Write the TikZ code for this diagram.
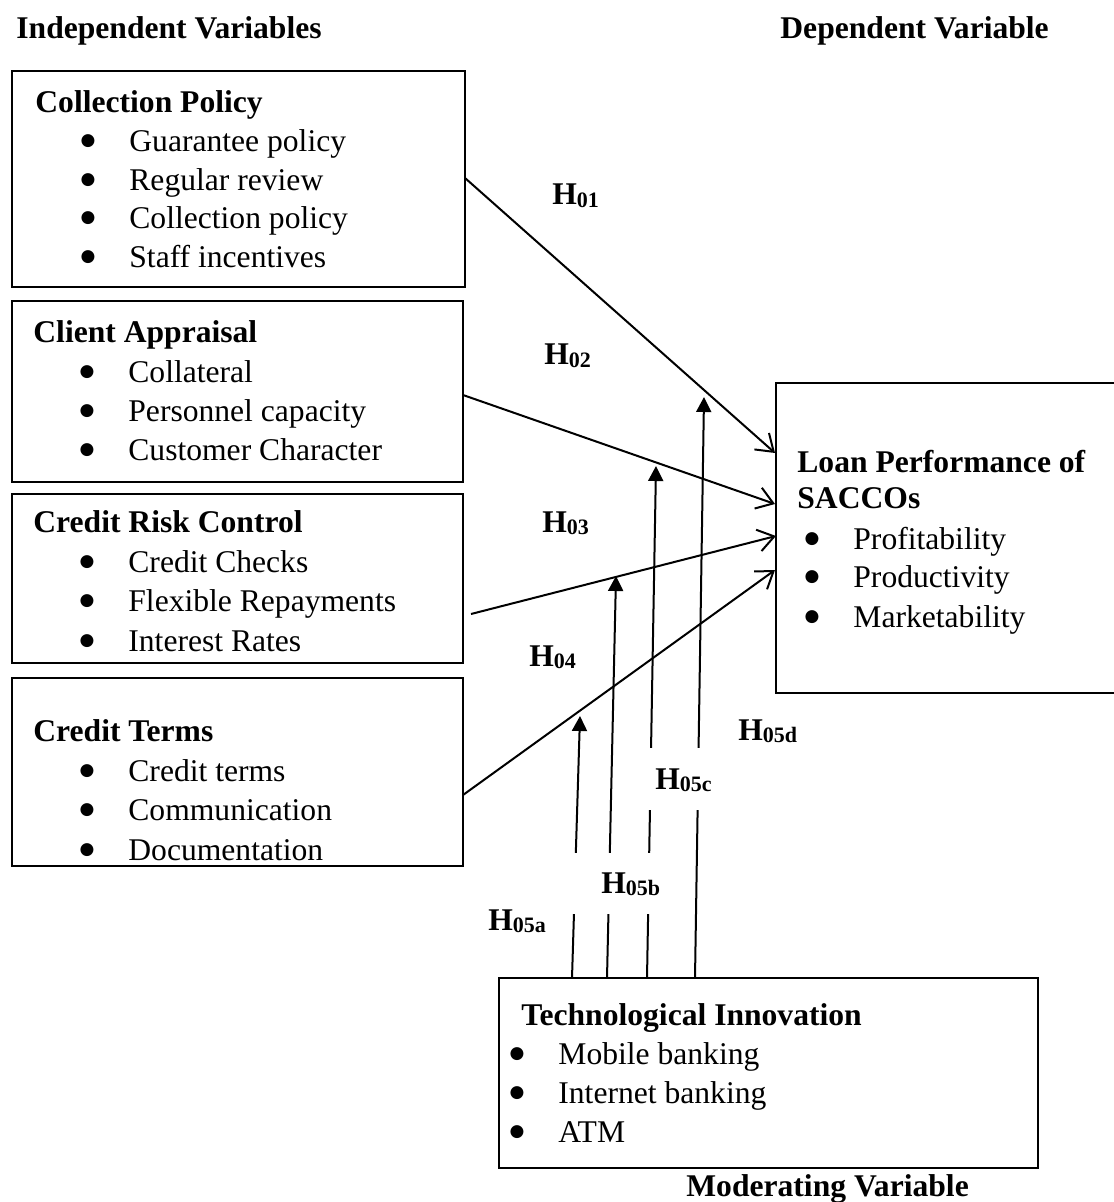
\documentclass[tikz,border=0pt]{standalone}
\usepackage{fontspec}
\setmainfont{Liberation Serif}
\newfontfamily\bulfont{DejaVu Sans}
\usetikzlibrary{arrows.meta}
\newcommand{\itemsize}{\fontsize{15.8}{19}\selectfont}
\newcommand{\subsz}{\fontsize{11}{11}\selectfont}
\newcommand{\Hlab}[1]{H\raisebox{-1.2pt}{\subsz #1}}
\newcommand{\bitem}[5]{% name, bullet x, text x, baseline, text
  \node[bul] (#1b) at ({#2},{#4-6}) {●};
  \node[txt] (#1) at ({#3},{#4}) {#5};}
\begin{document}
\begin{tikzpicture}[x=0.5pt,y=-0.5pt,
  box/.style={draw, line width=1pt, anchor=north west, inner sep=0pt, outer sep=0pt, fill=white},
  txt/.style={anchor=base west, inner sep=0pt, font=\itemsize},
  hd/.style={anchor=base west, inner sep=0pt, font=\itemsize\bfseries},
  bul/.style={anchor=base, inner sep=0pt, font=\bulfont\fontsize{8.5}{9}\selectfont},
  hyp/.style={anchor=base west, inner sep=0pt, font=\itemsize\bfseries},
  openarrow/.style={line width=1pt, -{Straight Barb[length=8pt,width=11pt,line width=1pt]}},
  modarrow/.style={line width=1pt, -{Triangle[length=7.5pt,width=7.5pt]}},
  gap/.style={fill=white, draw=none}
]
\useasboundingbox (0,0) rectangle (1113,1202);

% titles
\node[hd] (tind) at (16,39) {Independent Variables};
\node[hd] (tdep) at (780,39) {Dependent Variable};
\node[hd] (tmod) at (686,1196) {Moderating Variable};

% boxes
\node[box, minimum width=226.5pt, minimum height=108pt] (b1) at (12,71) {};
\node[box, minimum width=225.5pt, minimum height=90.5pt] (b2) at (12,301) {};
\node[box, minimum width=225.5pt, minimum height=84.5pt] (b3) at (12,494) {};
\node[box, minimum width=225.5pt, minimum height=94pt] (b4) at (12,678) {};
\node[box, minimum width=190pt, minimum height=155pt] (bd) at (776,383) {};
\node[box, minimum width=269.5pt, minimum height=95pt] (bm) at (499,978) {};

% box 1
\node[hd] (h1) at (35,113) {Collection Policy};
\bitem{i11}{88}{129}{152}{Guarantee policy}
\bitem{i12}{88}{129}{191}{Regular review}
\bitem{i13}{88}{129}{229}{Collection policy}
\bitem{i14}{88}{129}{268}{Staff incentives}
% box 2
\node[hd] (h2) at (33,343) {Client Appraisal};
\bitem{i21}{87}{128}{383}{Collateral}
\bitem{i22}{87}{128}{422}{Personnel capacity}
\bitem{i23}{87}{128}{461}{Customer Character}
% box 3
\node[hd] (h3) at (33,532) {Credit Risk Control};
\bitem{i31}{87}{128}{572}{Credit Checks}
\bitem{i32}{87}{128}{611}{Flexible Repayments}
\bitem{i33}{87}{128}{651}{Interest Rates}
% box 4
\node[hd] (h4) at (33,741) {Credit Terms};
\bitem{i41}{87}{128}{781}{Credit terms}
\bitem{i42}{87}{128}{820}{Communication}
\bitem{i43}{87}{128}{860}{Documentation}
% dependent box
\node[hd] (hd1) at (797,473) {Loan Performance of};
\node[hd] (hd2) at (797,509) {SACCOs};
\bitem{id1}{812}{853}{549}{Profitability}
\bitem{id2}{812}{853}{587}{Productivity}
\bitem{id3}{812}{853}{627}{Marketability}
% moderating box
\node[hd] (hm) at (521,1025) {Technological Innovation};
\bitem{im1}{517}{558}{1064}{Mobile banking}
\bitem{im2}{517}{558}{1103}{Internet banking}
\bitem{im3}{517}{558}{1142}{ATM}

% connector end points
\coordinate (s1) at (465,178);
\coordinate (s2) at (463,395);
\coordinate (s3) at (471,614);
\coordinate (s4) at (463,795);
\coordinate (e1) at (775,453);
\coordinate (e2) at (775,504);
\coordinate (e3) at (776,536);
\coordinate (e4) at (775,570);
\coordinate (m1) at (572,978);
\coordinate (m2) at (607,978);
\coordinate (m3) at (647,978);
\coordinate (m4) at (695,978);
\coordinate (n1) at (580,716);
\coordinate (n2) at (616,576);
\coordinate (n3) at (656,466);
\coordinate (n4) at (704,397);

\draw[openarrow] (s1) -- (e1);
\draw[openarrow] (s2) -- (e2);
\draw[openarrow] (s3) -- (e3);
\draw[openarrow] (s4) -- (e4);
\draw[modarrow] (m1) -- (n1);
\draw[modarrow] (m2) -- (n2);
\draw[modarrow] (m3) -- (n3);
\draw[modarrow] (m4) -- (n4);

% breaks in the moderating lines
\fill[gap] (562,853) rectangle (662,914);
\fill[gap] (640,748) rectangle (708,810);

% hypothesis labels
\node[hyp] (H01) at (552,205) {\Hlab{01}};
\node[hyp] (H02) at (544,365) {\Hlab{02}};
\node[hyp] (H03) at (542,532) {\Hlab{03}};
\node[hyp] (H04) at (529,666) {\Hlab{04}};
\node[hyp] (H05a) at (488,930) {\Hlab{05a}};
\node[hyp] (H05b) at (601,893) {\Hlab{05b}};
\node[hyp] (H05c) at (655,789) {\Hlab{05c}};
\node[hyp] (H05d) at (738,740) {\Hlab{05d}};
\end{tikzpicture}
\end{document}
